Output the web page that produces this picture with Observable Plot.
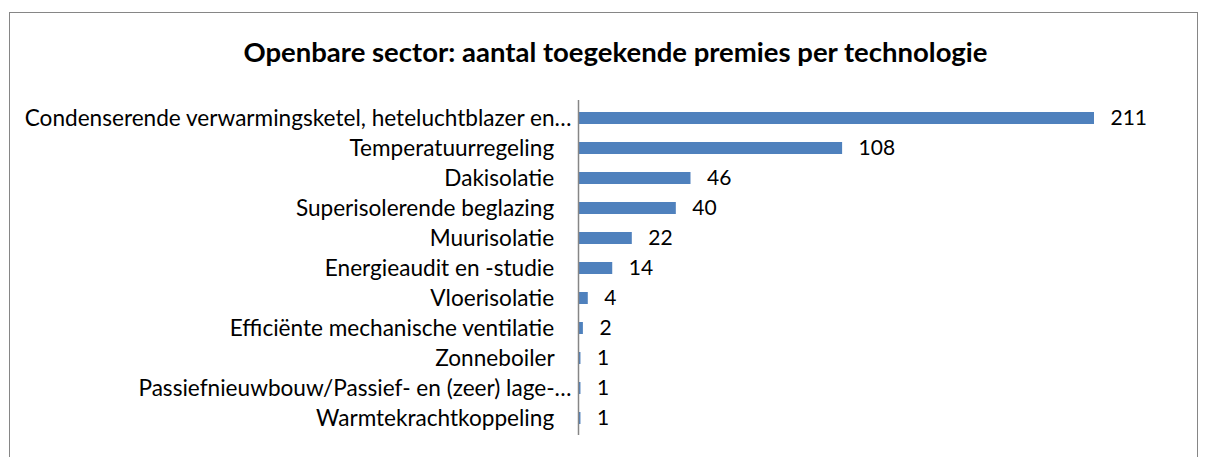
<!DOCTYPE html>
<html><head><meta charset="utf-8">
<script src="https://cdn.jsdelivr.net/npm/d3@7"></script>
<script src="https://cdn.jsdelivr.net/npm/@observablehq/plot@0.6"></script>
<style>
body{margin:0;background:#fff;font-family:Lato,sans-serif;}
#wrap{position:absolute;left:9px;top:12px;width:1187px;height:470px;border:1px solid #868686;overflow:hidden;background:#fff;}
#title{height:78px;line-height:78px;text-align:center;padding-left:24px;font-size:27.5px;font-weight:bold;color:#000;}
</style></head>
<body><div id="wrap"><div id="title">Openbare sector: aantal toegekende premies per technologie</div><div id="chart"></div></div>
<script>
const categories = [
  "Condenserende verwarmingsketel, heteluchtblazer en…",
  "Temperatuurregeling",
  "Dakisolatie",
  "Superisolerende beglazing",
  "Muurisolatie",
  "Energieaudit en -studie",
  "Vloerisolatie",
  "Efficiënte mechanische ventilatie",
  "Zonneboiler",
  "Passiefnieuwbouw/Passief- en (zeer) lage-…",
  "Warmtekrachtkoppeling"
];
const values = [211, 108, 46, 40, 22, 14, 4, 2, 1, 1, 1];
const data = categories.map((c, i) => ({category: c, value: values[i]}));

const chart = Plot.plot({
  width: 1187,
  height: 370,
  marginTop: 9,
  marginBottom: 26,
  marginLeft: 568,
  marginRight: 103,
  style: {fontFamily: "Lato, sans-serif", fontSize: "22.6px", color: "#000", background: "transparent"},
  x: {domain: [0, 211], axis: null},
  y: {domain: categories, paddingInner: 0.6, paddingOuter: 0.3, label: null, tickSize: 0,
      tickPadding: 7,
      tickFormat: d => d.endsWith("…") ? d : d + "\u00a0\u00a0\u00a0"},
  marks: [
    Plot.barX(data, {x: "value", y: "category", fill: "#4f81bd"}),
    Plot.ruleX([0], {stroke: "#868686", strokeWidth: 1.5}),
    Plot.text(data, {x: "value", y: "category", text: d => String(d.value), dx: 16, textAnchor: "start", fill: "#000", fontSize: 21})
  ]
});
document.getElementById("chart").appendChild(chart);
</script></body></html>
